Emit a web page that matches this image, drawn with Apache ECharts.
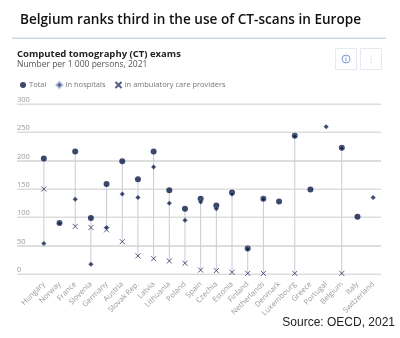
<!DOCTYPE html>
<html><head><meta charset="utf-8">
<script src="https://cdn.jsdelivr.net/npm/echarts@6/dist/echarts.min.js"></script>
<style>html,body{margin:0;padding:0;background:#fff}#c{width:400px;height:338px}</style>
</head><body><div id="c"></div>
<script>
const categories = ['Hungary','Norway','France','Slovenia','Germany','Austria','Slovak Rep.','Latvia','Lithuania','Poland','Spain','Czechia','Estonia','Finland','Netherlands','Denmark','Luxembourg','Greece','Portugal','Belgium','Italy','Switzerland'];
const total =      [204, 90, 216, 99, 159, 199, 167, 216, 148, 115, 133, 121, 144, 45, 133, 128, 244, 149, null, 223, 101, null];
const hospitals =  [54, 89, 132, 17, 82, 141, 135, 189, 125, 95, 127, 115, 141, 44, 132, null, 243, null, 260, 222, null, 135];
const ambulatory = [150, null, 84, 82, 78, 57, 32, 27, 23, 19, 7, 6, 3, 1, 1, null, 1, null, null, 1, null, null];
const yTicks = [0, 50, 100, 150, 200, 250, 300];

const navy = '#0d1b45';
const ranges = [];
categories.forEach((c, i) => {
  const v = [total[i], hospitals[i], ambulatory[i]].filter(x => x != null);
  if (v.length > 1) ranges.push([i, Math.min(...v), Math.max(...v)]);
});

const chart = echarts.init(document.getElementById('c'));
const font = '"Open Sans", "Noto Sans", sans-serif';
chart.setOption({
  animation: false,
  textStyle: { fontFamily: font },
  grid: [
    { left: 17, right: 19, top: 104, bottom: 64, outerBoundsMode: 'none', containLabel: false },
    { left: 36, right: 19, top: 104, bottom: 64, outerBoundsMode: 'none', containLabel: false }
  ],
  xAxis: [
    { gridIndex: 0, type: 'value', min: 0, max: 1, axisLine: { show: false }, axisTick: { show: false },
      axisLabel: { show: false }, splitLine: { show: false } },
    { gridIndex: 1, type: 'category', data: categories, boundaryGap: true,
      axisLine: { show: false }, axisTick: { show: false },
      axisLabel: { rotate: 45, fontSize: 7.5, color: '#9a9a9a', margin: 9, interval: 0, fontFamily: font } }
  ],
  yAxis: [
    { gridIndex: 0, type: 'value', min: yTicks[0], max: yTicks[yTicks.length - 1], interval: 50,
      axisLine: { show: false }, axisTick: { show: false },
      splitLine: { show: true, lineStyle: { color: '#dedede', width: 1 } },
      axisLabel: { inside: true, margin: 0, verticalAlign: 'bottom', align: 'left', padding: [0, 0, 0, 0],
        fontSize: 7.5, color: '#9a9a9a', fontFamily: font } },
    { gridIndex: 1, type: 'value', min: 0, max: 300, show: false }
  ],
  legend: {
    left: 15, top: 76, itemWidth: 6, itemHeight: 6, itemGap: 9,
    textStyle: { fontSize: 7.5, color: '#777', fontFamily: font, padding: [0, 0, 0, -2] },
    data: ['Total', 'In hospitals', 'In ambulatory care providers']
  },
  series: [
    { type: 'custom', xAxisIndex: 0, yAxisIndex: 0, data: yTicks.map(v => [0, v]), z: 0, silent: true,
      encode: { x: 0, y: 1 },
      renderItem: (params, api) => {
        const cs = params.coordSys;
        const y = Math.round(api.coord([0, api.value(1)])[1]);
        return { type: 'rect', shape: { x: cs.x, y: y - 0.5, width: cs.width, height: 1.4 },
          style: { fill: '#dddddd' } };
      } },
    { type: 'custom', xAxisIndex: 1, yAxisIndex: 1, data: ranges, z: 1,
      encode: { x: 0, y: [1, 2] },
      renderItem: (params, api) => {
        const a = api.coord([api.value(0), api.value(1)]);
        const b = api.coord([api.value(0), api.value(2)]);
        return { type: 'line', shape: { x1: a[0], y1: a[1], x2: b[0], y2: b[1] },
          style: { stroke: '#c8ccd6', lineWidth: 1 } };
      } },
    { name: 'Total', type: 'scatter', xAxisIndex: 1, yAxisIndex: 1, data: total, z: 2,
      symbol: 'circle', symbolSize: 6, itemStyle: { color: navy } },
    { name: 'In hospitals', type: 'scatter', xAxisIndex: 1, yAxisIndex: 1, data: hospitals, z: 3,
      symbol: 'diamond', symbolSize: 5, itemStyle: { color: navy, borderColor: '#a9b7da', borderWidth: 0.5 } },
    { name: 'In ambulatory care providers', type: 'scatter', xAxisIndex: 1, yAxisIndex: 1, data: ambulatory, z: 4,
      symbol: 'path://M0,0L10,10M10,0L0,10', symbolSize: 5,
      itemStyle: { color: 'rgba(0,0,0,0)', borderColor: '#2a3560', borderWidth: 1 } }
  ],
  graphic: [
    { type: 'text', left: 20, top: 13, style: { text: 'Belgium ranks third in the use of CT-scans in Europe',
      font: '600 13.6px "Open Sans", sans-serif', fill: '#111' } },
    { type: 'rect', shape: { x: 12, y: 37.5, width: 374, height: 1.4 }, style: { fill: '#cfd7e3' } },
    { type: 'text', left: 17, top: 49, style: { text: 'Computed tomography (CT) exams',
      font: 'bold 9.5px "Open Sans", sans-serif', fill: '#222' } },
    { type: 'text', left: 17, top: 60, style: { text: 'Number per 1 000 persons, 2021',
      font: '8.5px "Open Sans", sans-serif', fill: '#555' } },
    { type: 'rect', shape: { x: 335.5, y: 48.5, width: 21, height: 21 }, style: { fill: '#fff', stroke: '#e6e9ef', lineWidth: 1 } },
    { type: 'rect', shape: { x: 360.5, y: 48.5, width: 21, height: 21 }, style: { fill: '#fff', stroke: '#e6e9ef', lineWidth: 1 } },
    { type: 'circle', shape: { cx: 346, cy: 59, r: 4 }, style: { fill: 'none', stroke: '#7d9ad8', lineWidth: 1 } },
    { type: 'rect', shape: { x: 345.5, y: 58, width: 1, height: 3.5 }, style: { fill: '#7d9ad8' } },
    { type: 'circle', shape: { cx: 346, cy: 56.6, r: 0.5 }, style: { fill: '#7d9ad8' } },
    { type: 'circle', shape: { cx: 371, cy: 56, r: 0.6 }, style: { fill: '#aaa' } },
    { type: 'circle', shape: { cx: 371, cy: 59, r: 0.6 }, style: { fill: '#aaa' } },
    { type: 'circle', shape: { cx: 371, cy: 62, r: 0.6 }, style: { fill: '#aaa' } },
    { type: 'text', right: 5, top: 317, style: { text: 'Source: OECD, 2021',
      font: '12px "Liberation Sans", sans-serif', fill: '#222' } }
  ]
});
</script></body></html>
